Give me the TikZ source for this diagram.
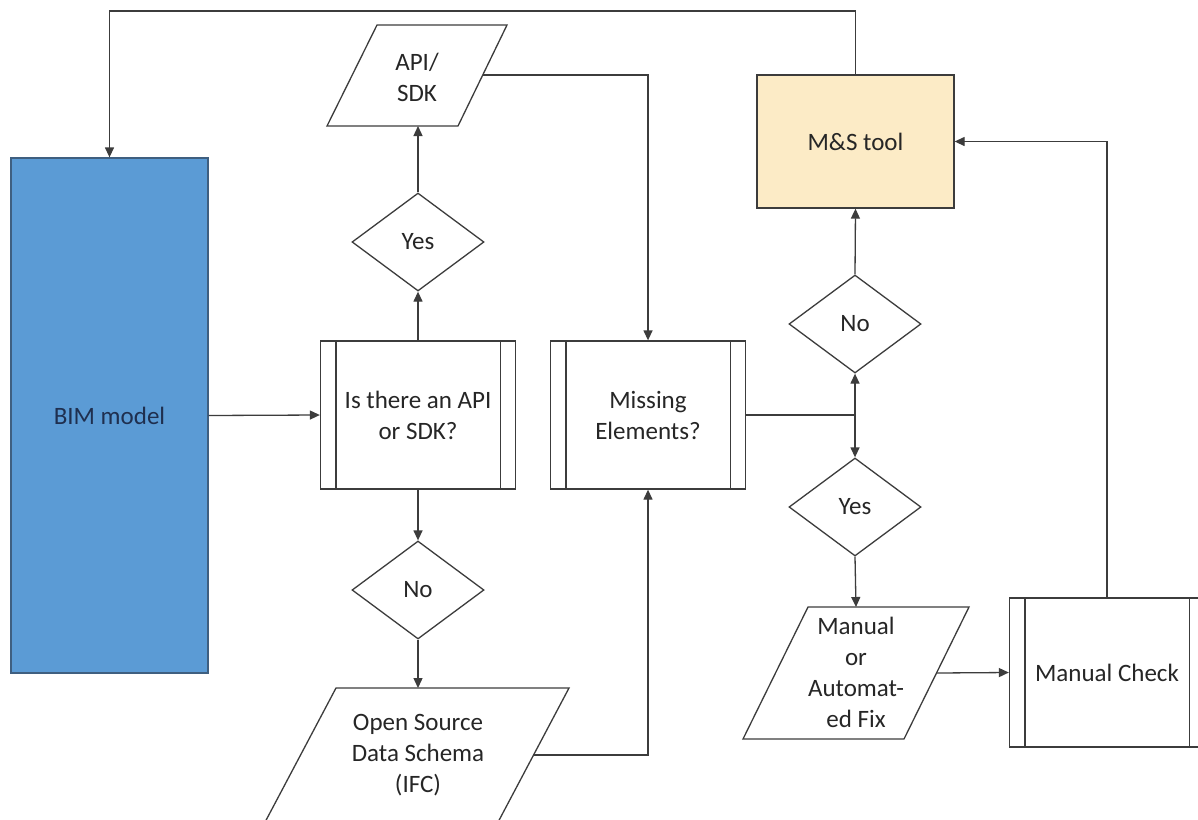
\documentclass[tikz,border=0pt]{standalone}
\usepackage{fontspec}
\setmainfont{Carlito}
\usetikzlibrary{shapes.geometric,arrows.meta}
\definecolor{bimfill}{HTML}{5B9BD5}
\definecolor{bimline}{HTML}{3F5F80}
\definecolor{bimtext}{HTML}{1F2F4F}
\definecolor{toolfill}{HTML}{FCEBC6}
\definecolor{ink}{HTML}{3C3C3C}
\begin{document}
\begin{tikzpicture}[x=1pt,y=-1pt,
  every node/.style={font=\fontsize{25}{31}\selectfont, text=black!85},
  conn/.style={draw=ink, line width=1.3pt},
  arr/.style={conn, -{Triangle[length=10pt,width=9pt]}},
  box/.style={draw=ink, line width=1.3pt, rectangle, minimum width=195pt, inner sep=0pt, align=center},
  decide/.style={draw=ink, line width=1.3pt, diamond, minimum width=132pt, minimum height=98pt, inner sep=0pt},
  lean/.style={draw=ink, line width=1.3pt, fill=white},
  ]
\clip (0,0) rectangle (1198,819);
\fill[white] (0,0) rectangle (1198,819);

% process boxes
\node[box, fill=bimfill, draw=bimline, minimum width=197pt, minimum height=515pt, text=bimtext] (bim) at (109.5,415.5) {BIM model};
\node[box, fill=toolfill, minimum width=197pt, minimum height=133pt] (tool) at (855.5,141.5) {M\&S tool};
\node[box, minimum height=148pt] (api) at (418,415) {Is there an API\\or SDK?};
\node[box, minimum height=148pt] (miss) at (648,415) {Missing\\Elements?};
\node[box, minimum height=149pt] (check) at (1107,672.5) {Manual Check};
\foreach \n in {api,miss,check}
  \draw[conn] ([xshift=16pt]\n.north west) -- ([xshift=16pt]\n.south west)
              ([xshift=-16pt]\n.north east) -- ([xshift=-16pt]\n.south east);

% decisions
\node[decide] (yes1) at (418,242) {Yes};
\node[decide] (no1) at (418,590) {No};
\node[decide] (no2) at (855,324) {No};
\node[decide] (yes2) at (855,507) {Yes};

% data (parallelograms)
\draw[lean] (377,25) -- (507,25) -- (458,126) -- (327,126) -- cycle;
\node[align=center] (sdk) at (417,77) {API/\\SDK};
\coordinate (sdkB) at (418,126);
\coordinate (sdkR) at (483,75);

\draw[lean] (336,688) -- (569,688) -- (478,860) -- (245,860) -- cycle;
\node[align=center] (ifc) at (418,755) {Open Source\\Data Schema\\(IFC)};
\coordinate (ifcT) at (418,688);
\coordinate (ifcR) at (534,755);

\draw[lean] (808,607) -- (969,607) -- (904,739) -- (743,739) -- cycle;
\node[align=center] (fix) at (856,672) {Manual\\or\\Automat-\\ed Fix};
\coordinate (fixT) at (856,607);
\coordinate (fixR) at (937,673);

% connectors
\draw[arr] (bim.east) -- (api.west);
\draw[arr] (api.north) -- (yes1.south);
\draw[arr] (yes1.north) -- (sdkB);
\draw[arr] (api.south) -- (no1.north);
\draw[arr] (no1.south) -- (ifcT);
\draw[arr] (sdkR) -| (miss.north);
\draw[arr] (ifcR) -| (miss.south);
\coordinate (split) at (no2.south |- miss.east);
\draw[conn] (miss.east) -- (split);
\draw[arr] (split) -- (no2.south);
\draw[arr] (split) -- (yes2.north);
\draw[arr] (no2.north) -- (tool.south);
\draw[arr] (yes2.south) -- (fixT);
\draw[arr] (fixR) -- (check.west);
\draw[arr] (check.north) |- (tool.east);
\coordinate (loop) at (855,11);
\draw[arr] (tool.north) -- (tool.north |- loop) -| (bim.north);
\end{tikzpicture}
\end{document}
